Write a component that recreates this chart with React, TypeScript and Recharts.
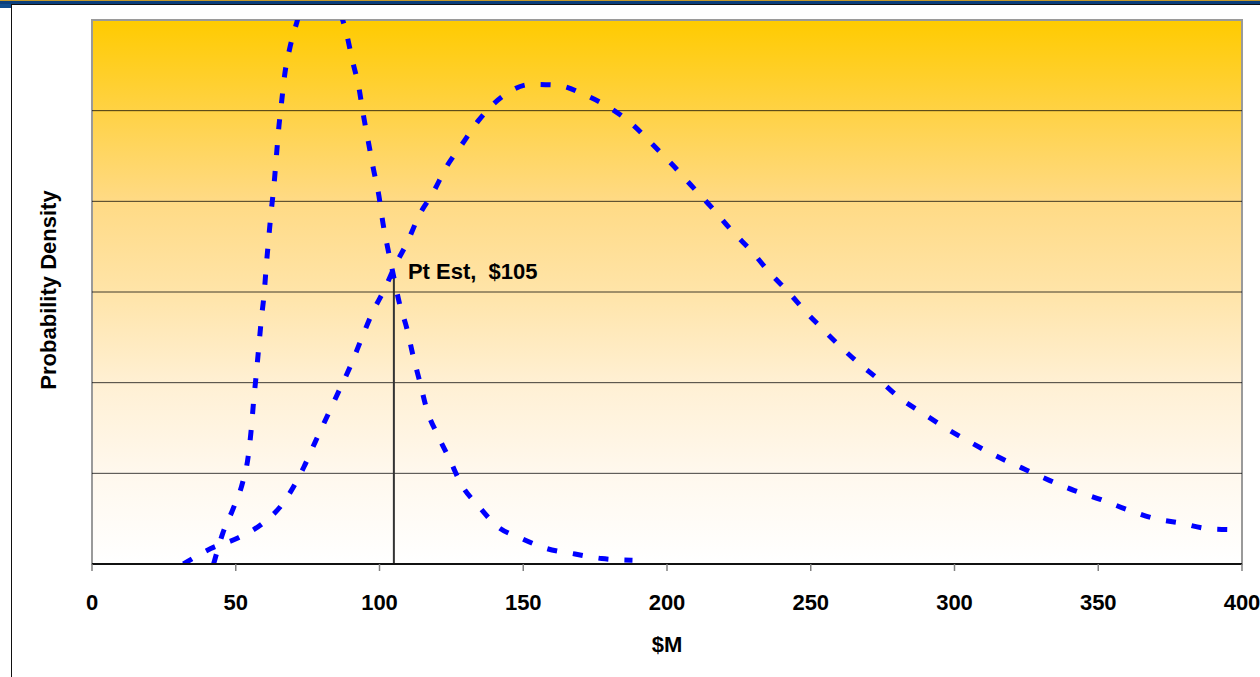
import React from "react";
import {
  LineChart, Line, XAxis, YAxis, CartesianGrid, ReferenceLine, ReferenceArea, ReferenceDot, Label,
} from "recharts";

// narrow distribution ($M, density)
const narrowX = [42.3, 45.5, 49.1, 52.4, 54.3, 55.4, 56.2, 57.1, 58.0, 58.9, 59.9, 60.6, 61.4, 62.3, 63.3, 64.1, 64.9, 65.9, 67.0, 68.8, 71.2, 74.5, 77.5, 80.5, 83.5, 86.5, 88.6, 90.6, 92.8, 94.4, 96.1, 97.8, 99.8, 101.2, 102.9, 104.8, 106.9, 109.5, 111.8, 114.1, 116.4, 120.1, 124.3, 128.6, 134.4, 140.8, 149.5, 158.2, 168.0, 177.3, 188.0];
const narrowY = [0.0, 0.34, 0.61, 0.9, 1.18, 1.49, 1.79, 2.08, 2.39, 2.7, 2.99, 3.28, 3.57, 3.88, 4.18, 4.48, 4.79, 5.08, 5.39, 5.69, 5.97, 6.3, 6.47, 6.48, 6.3, 6.07, 5.84, 5.55, 5.26, 4.95, 4.66, 4.37, 4.06, 3.76, 3.48, 3.19, 2.88, 2.6, 2.28, 2.0, 1.71, 1.43, 1.16, 0.87, 0.64, 0.42, 0.28, 0.17, 0.11, 0.06, 0.04];

// wide distribution
const wideX = [31.8, 41.3, 50.9, 59.4, 66.2, 73.7, 77.7, 81.8, 85.9, 90.0, 93.8, 97.5, 101.9, 105.4, 109.7, 113.7, 118.7, 123.3, 128.5, 134.4, 142.5, 152.7, 162.0, 171.7, 180.2, 188.3, 195.2, 202.0, 208.3, 215.9, 223.0, 229.7, 235.8, 242.2, 248.6, 252.6, 259.6, 266.5, 273.8, 281.0, 288.6, 296.9, 305.1, 313.3, 323.4, 333.2, 341.7, 351.0, 360.1, 369.7, 378.8, 388.0, 395.8];
const wideY = [0.0, 0.17, 0.29, 0.45, 0.66, 1.07, 1.35, 1.63, 1.91, 2.19, 2.49, 2.77, 3.04, 3.29, 3.55, 3.84, 4.1, 4.38, 4.62, 4.89, 5.15, 5.29, 5.28, 5.17, 5.03, 4.84, 4.62, 4.4, 4.18, 3.92, 3.66, 3.44, 3.21, 3.0, 2.77, 2.64, 2.42, 2.22, 2.03, 1.83, 1.67, 1.5, 1.35, 1.21, 1.06, 0.92, 0.81, 0.71, 0.6, 0.5, 0.45, 0.39, 0.38];

const xTicks = [0, 50, 100, 150, 200, 250, 300, 350, 400];
const yGrid = [1, 2, 3, 4, 5];

const ptEst = 105;
const ptEstDensity = 3.22;
const ptEstLabel = "Pt Est,  $105";

const narrow = narrowX.map((x, i) => ({ x, y: narrowY[i] }));
const wide = wideX.map((x, i) => ({ x, y: wideY[i] }));

const font = '"Liberation Sans", Arial, sans-serif';
const dash = "10 16";

export default function App() {
  return (
    <div style={{ position: "absolute", left: 0, top: 0, width: 1260, height: 677, background: "#fff", overflow: "hidden" }}>
      {/* slide frame */}
      <div style={{ position: "absolute", left: 0, top: 0, width: 1260, height: 1, background: "#c49a2c" }} />
      <div style={{ position: "absolute", left: 0, top: 1, width: 1260, height: 3, background: "#0b3f7c" }} />
      <div style={{ position: "absolute", left: 11, top: 4, width: 1249, height: 1, background: "#111" }} />
      <div style={{ position: "absolute", left: 0, top: 4, width: 11, height: 4, background: "#114d8e" }} />
      <div style={{ position: "absolute", left: 11, top: 4, width: 1, height: 673, background: "#111" }} />

      <svg style={{ position: "absolute", left: 0, top: 0 }} width={100} height={677}>
        <text x={48} y={290} transform="rotate(-90 48 290)" textAnchor="middle" dominantBaseline="central"
          fill="#000" fontSize={22} fontWeight="bold" fontFamily={font}>Probability Density</text>
      </svg>

      <div style={{ position: "absolute", left: 0, top: 0 }}>
        <LineChart width={1260} height={677} margin={{ top: 20, right: 18, bottom: 73, left: 92 }}>
          <defs>
            <linearGradient id="plotBg" x1="0" y1="0" x2="0" y2="1">
              <stop offset="0" stopColor="#ffcb00" />
              <stop offset="0.166" stopColor="#ffd244" />
              <stop offset="0.33" stopColor="#ffda84" />
              <stop offset="0.5" stopColor="#ffe4a8" />
              <stop offset="0.67" stopColor="#fff0d4" />
              <stop offset="0.83" stopColor="#fff8ed" />
              <stop offset="1" stopColor="#ffffff" />
            </linearGradient>
          </defs>
          <CartesianGrid vertical={false} horizontal={false} fill="url(#plotBg)" fillOpacity={1} />
          <XAxis
            type="number"
            dataKey="x"
            domain={[0, 400]}
            ticks={xTicks}
            allowDataOverflow
            height={40}
            tickSize={7}
            tickMargin={23}
            axisLine={{ stroke: "#111", strokeWidth: 2 }}
            tickLine={{ stroke: "#808080", strokeWidth: 1.5 }}
            tick={{ fill: "#000", fontSize: 22, fontWeight: "bold", fontFamily: font }}
          >
            <Label
              content={({ viewBox }: any) => (
                <text x={viewBox.x + viewBox.width / 2} y={652} textAnchor="middle" fill="#000"
                  fontSize={22} fontWeight="bold" fontFamily={font}>$M</text>
              )}
            />
          </XAxis>
          <YAxis
            type="number"
            domain={[0, 6]}
            allowDataOverflow
            width={0}
            tick={false}
            axisLine={false}
            tickLine={false}
          />
          {/* horizontal gridlines */}
          {yGrid.map((v) => (
            <ReferenceLine key={v} y={v} stroke="#000" strokeOpacity={0.75} strokeWidth={1} />
          ))}
          <ReferenceArea x1={0} x2={400} y1={0} y2={6} fill="none" stroke="#9a9a9a" strokeWidth={2} />
          <ReferenceLine
            segment={[{ x: ptEst, y: 0 }, { x: ptEst, y: ptEstDensity }]}
            stroke="#333"
            strokeWidth={2}
          />
          <Line data={narrow} dataKey="y" type="monotone" stroke="#0000ff" strokeWidth={5}
            strokeDasharray={dash} dot={false} activeDot={false} isAnimationActive={false} />
          <Line data={wide} dataKey="y" type="monotone" stroke="#0000ff" strokeWidth={5}
            strokeDasharray={dash} dot={false} activeDot={false} isAnimationActive={false} />
          <ReferenceDot
            x={ptEst}
            y={ptEstDensity}
            r={1}
            fill="none"
            stroke="none"
            label={{
              content: ({ viewBox }: any) => (
                <text x={viewBox.x + 15} y={viewBox.y + 8} fill="#000" fontSize={22} fontWeight="bold"
                  fontFamily={font} style={{ whiteSpace: "pre" }}>{ptEstLabel}</text>
              ),
            }}
          />
        </LineChart>
      </div>
    </div>
  );
}
